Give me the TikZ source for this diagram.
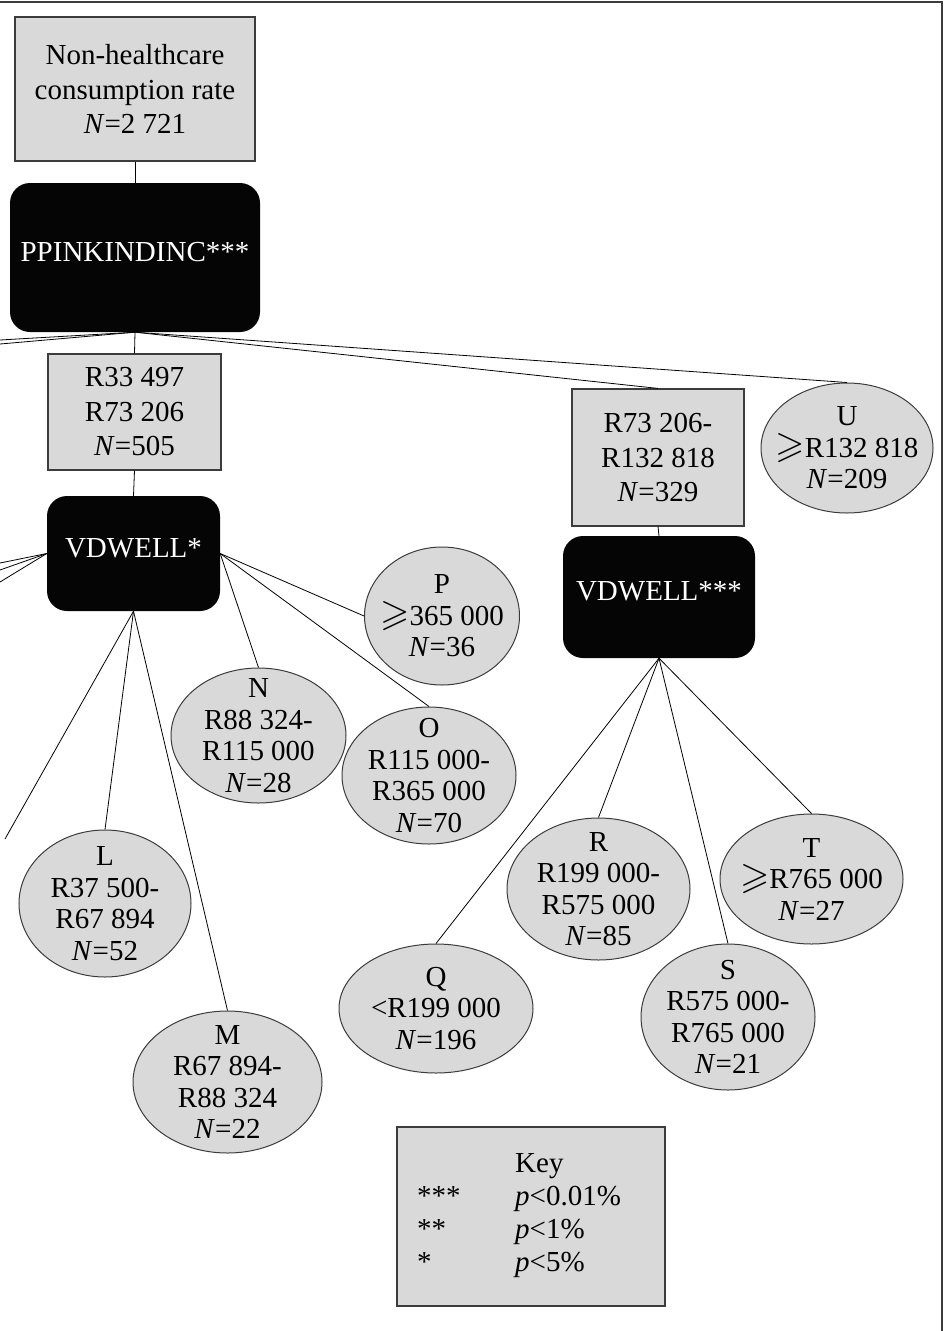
\documentclass[tikz,border=0pt]{standalone}
\usepackage{amssymb}
\usepackage{graphicx}
\usepackage{fontspec}
\setmainfont{Liberation Serif}
\usepackage{tikz}
\usetikzlibrary{shapes}
\definecolor{cellgray}{RGB}{217,217,217}
\definecolor{rimgray}{RGB}{60,60,60}
\newcommand\boxfont{\fontsize{29}{34.5}\selectfont}
\newcommand\leaffont{\fontsize{29}{31.5}\selectfont}
\newcommand\atleast{\scalebox{1.3}{$\geqslant$}}
\tikzset{
  splitbox/.style={
    rectangle,draw=rimgray,fill=cellgray,line width=1.2pt,
    inner sep=0pt,align=center,font=\boxfont,
  },
  varbox/.style={
    rectangle,fill=black!98,rounded corners=20pt,text=white,
    inner sep=0pt,text depth=12pt,font=\boxfont,
  },
  leaf/.style={
    ellipse,draw=rimgray,fill=cellgray,line width=1pt,
    inner xsep=-24pt,inner ysep=-24pt,align=center,font=\leaffont,
  },
  branch/.style={draw=black,line width=0.8pt},
}

\begin{document}
\begin{tikzpicture}[x=1pt,y=-1pt]
    \useasboundingbox (0,0) rectangle (946,1331);
    % frame
    \draw[rimgray,line width=2pt] (0,2) -- (942,2) -- (942,1331);
    % splits
    \node[splitbox,minimum width=240pt,minimum height=144pt] (root) at (135,89)
        {Non-healthcare\\consumption rate\\\textit{N}=2 721};
    \node[varbox,minimum width=250pt,minimum height=149pt] (inc) at (135,257.5) {PPINKINDINC***};
    \node[splitbox,minimum width=173pt,minimum height=116pt] (lowinc) at (134.5,412)
        {R33 497\\R73 206\\\textit{N}=505};
    \node[varbox,minimum width=173pt,minimum height=115pt] (dwellA) at (133.5,553.5) {VDWELL*};
    \node[splitbox,minimum width=172pt,minimum height=137pt] (midinc) at (658,457.5)
        {R73 206-\\R132 818\\\textit{N}=329};
    \node[varbox,minimum width=192pt,minimum height=122pt] (dwellB) at (659,597) {VDWELL***};
    % leaves
    \node[leaf,minimum width=172pt,minimum height=130pt] (U) at (847,448)
        {U\\\atleast R132 818\\\textit{N}=209};
    \node[leaf,minimum width=172pt,minimum height=147pt] (L) at (105,903.5)
        {L\\R37 500-\\R67 894\\\textit{N}=52};
    \node[leaf,minimum width=189pt,minimum height=142pt] (M) at (227.5,1082)
        {M\\R67 894-\\R88 324\\\textit{N}=22};
    \node[leaf,minimum width=175pt,minimum height=135pt] (N) at (258.5,735.5)
        {N\\R88 324-\\R115 000\\\textit{N}=28};
    \node[leaf,minimum width=174pt,minimum height=137pt] (O) at (429,775.5)
        {O\\R115 000-\\R365 000\\\textit{N}=70};
    \node[leaf,minimum width=155pt,minimum height=138pt] (P) at (442,616)
        {P\\\atleast 365 000\\\textit{N}=36};
    \node[leaf,minimum width=194pt,minimum height=129pt] (Q) at (436,1008.5)
        {Q\\<R199 000\\\textit{N}=196};
    \node[leaf,minimum width=183pt,minimum height=142pt] (R) at (598.5,889)
        {R\\R199 000-\\R575 000\\\textit{N}=85};
    \node[leaf,minimum width=174pt,minimum height=146pt] (S) at (728,1017)
        {S\\R575 000-\\R765 000\\\textit{N}=21};
    \node[leaf,minimum width=183pt,minimum height=130pt] (T) at (811.5,879)
        {T\\\atleast R765 000\\\textit{N}=27};
    % cut ends at the left edge
    \coordinate (cutA) at (0,340);
    \coordinate (cutB) at (0,344);
    \coordinate (cutC) at (0,563);
    \coordinate (cutD) at (0,570);
    \coordinate (cutE) at (0,582);
    \coordinate (cutK) at (5,839);
    % branches
    \draw[branch] (root.south) -- (inc.north);
    \draw[branch] (inc.south) -- (cutA);
    \draw[branch] (inc.south) -- (cutB);
    \draw[branch] (inc.south) -- (lowinc.north);
    \draw[branch] (inc.south) -- (midinc.north);
    \draw[branch] (inc.south) -- (U.north);
    \draw[branch] (lowinc.south) -- (dwellA.north);
    \draw[branch] (dwellA.west) -- (cutC);
    \draw[branch] (dwellA.west) -- (cutD);
    \draw[branch] (dwellA.west) -- (cutE);
    \draw[branch] (dwellA.south) -- (cutK);
    \draw[branch] (dwellA.south) -- (L.north);
    \draw[branch] (dwellA.south) -- (M.north);
    \draw[branch] (dwellA.east) -- (N.north);
    \draw[branch] (dwellA.east) -- (O.north);
    \draw[branch] (dwellA.east) -- (P.west);
    \draw[branch] (midinc.south) -- (dwellB.north);
    \foreach \leafname in {Q,R,S,T}
        \draw[branch] (dwellB.south) -- (\leafname.north);
    % key
    \node[splitbox,minimum width=268pt,minimum height=179pt] (key) at (531,1216.5) {};
    \node[anchor=base west,font=\boxfont,inner sep=0pt] (keyhead) at (515,1172) {Key};
    \foreach \stars/\lvl [count=\i] in {***/0.01,**/1,*/5} {
        \node[anchor=base west,font=\boxfont,inner sep=0pt] (keystar\i) at (417,1172+33*\i) {\stars};
        \node[anchor=base west,font=\boxfont,inner sep=0pt] (keyp\i) at (515,1172+33*\i) {\textit{p}<\lvl\%};
    }
\end{tikzpicture}
\end{document}
